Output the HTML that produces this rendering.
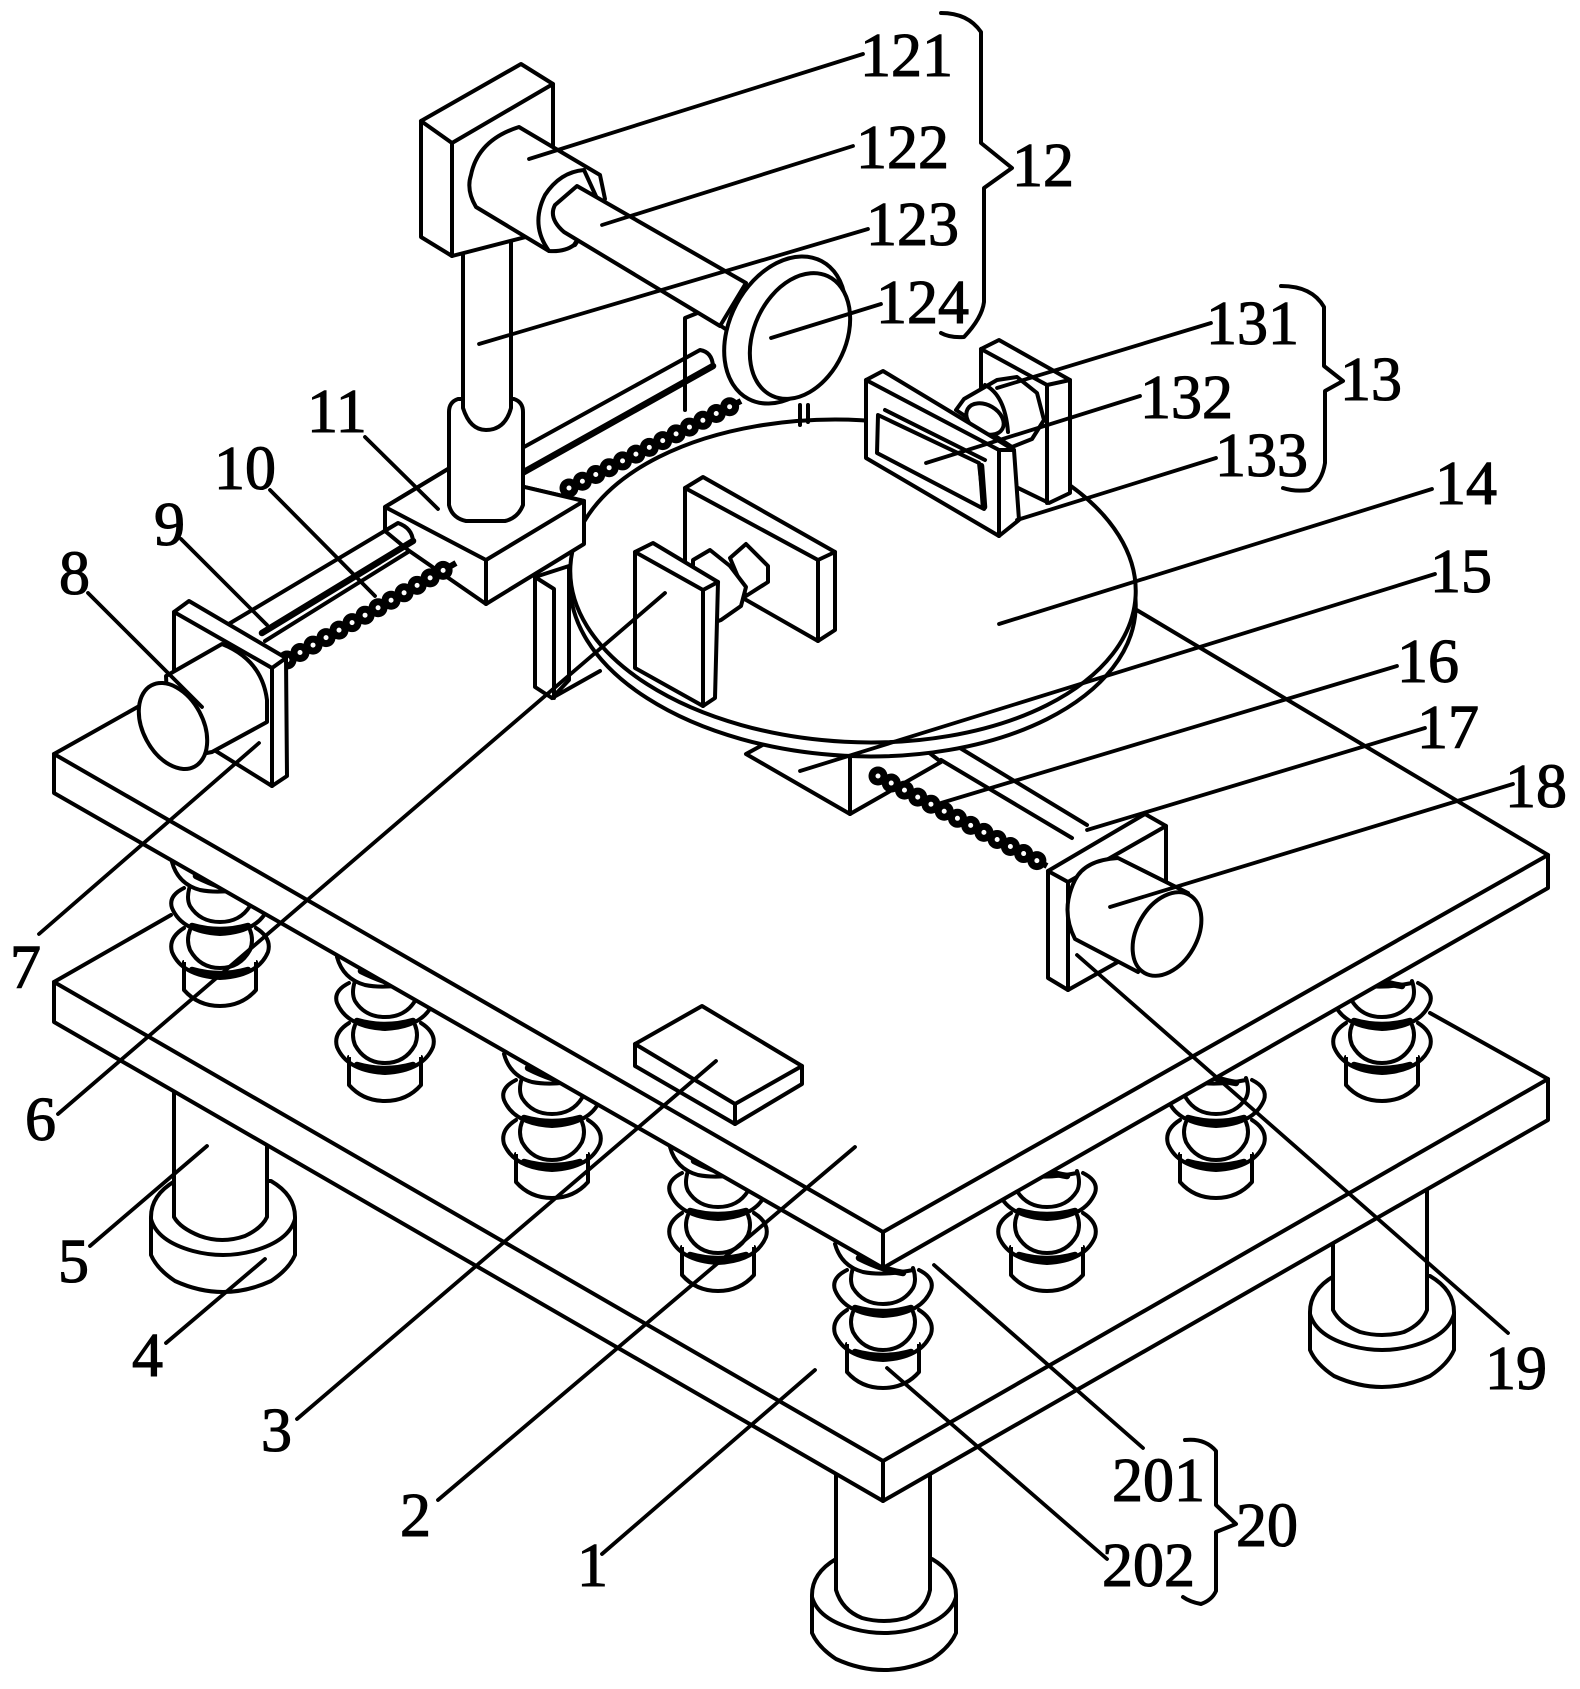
<!DOCTYPE html>
<html><head><meta charset="utf-8"><style>
html,body{margin:0;padding:0;background:#fff}
svg{display:block}
text{font-family:"Liberation Serif",serif;font-size:62px;fill:#000;stroke:#000;stroke-width:1.1}
.l{stroke:#000;stroke-width:3.8;fill:none}
.f{stroke:#000;stroke-width:4;fill:#fff;stroke-linejoin:round;stroke-linecap:round}
.n{stroke:#000;stroke-width:4;fill:none;stroke-linejoin:round;stroke-linecap:round}
.t{stroke:#000;stroke-width:6.5;fill:none;stroke-linecap:round;stroke-linejoin:round}
</style></head><body>
<svg width="1580" height="1689" viewBox="0 0 1580 1689" xmlns="http://www.w3.org/2000/svg">
<defs>
<g id="foot">
<path class="f" d="M-72,0 Q-72,-22 -48,-36 L48,-36 Q72,-22 72,0 V38 Q66,52 48,64 Q0,86 -48,64 Q-66,52 -72,38 Z"/>
<path class="n" d="M-72,2 Q-66,24 -30,34 Q0,42 30,34 Q66,24 72,2"/>
</g>
<g id="spring">
<path class="f" d="M-36,-44 V-16 Q-22,0 0,0 Q22,0 36,-16 V-44"/>
<path d="M-36,-150 L36,-150 L36,-44 L-36,-44 Z" fill="#fff"/>
<path class="n" d="M-36,-78 Q-52,-68 -48,-54 Q-38,-30 0,-28 Q38,-30 48,-54 Q52,-68 36,-78"/>
<path class="n" d="M-30,-76 Q-34,-66 -30,-56 Q-20,-38 0,-38 Q20,-38 30,-56 Q34,-66 30,-76"/>
<path class="t" d="M-28,-36 Q0,-28 28,-36"/>
<path class="n" d="M-36,-118 Q-52,-110 -48,-98 Q-38,-74 0,-72 Q38,-74 48,-98 Q52,-110 36,-118"/>
<path class="n" d="M-30,-120 Q-34,-108 -30,-100 Q-20,-84 0,-84 Q20,-84 30,-100 Q34,-108 30,-120"/>
<path class="t" d="M-28,-80 Q0,-72 28,-80"/>
<path class="n" d="M-48,-144 Q-42,-122 -20,-116 Q0,-112 30,-118"/>
<path class="t" d="M-24,-130 Q0,-118 20,-115"/>
</g>
</defs>

<!-- feet -->
<use href="#foot" x="223" y="1217"/>
<path class="f" d="M174,1085 V1217 Q180,1228 200,1236 Q222,1244 245,1236 Q262,1228 267,1217 V1120 Z"/>
<use href="#foot" x="1382" y="1312"/>
<path class="f" d="M1333,1180 V1310 Q1340,1324 1360,1332 Q1382,1338 1404,1332 Q1422,1324 1427,1310 V1130 Z"/>
<use href="#foot" x="884" y="1595"/>
<path class="f" d="M836,1470 V1590 Q842,1610 862,1618 Q884,1624 906,1618 Q926,1610 930,1590 V1470 Z"/>

<!-- lower plate -->
<polygon points="54,982 719,605 1548,1079 883,1461" fill="#fff"/>
<path class="n" d="M54,982 L171,915 M1430,1013 L1548,1079"/>
<polygon class="f" points="54,982 883,1461 1548,1079 1548,1120 883,1501 54,1022"/>
<path class="n" d="M883,1461 V1501"/>

<!-- springs -->
<use href="#spring" x="220" y="1006"/>
<use href="#spring" x="385" y="1101"/>
<use href="#spring" x="552" y="1198"/>
<use href="#spring" x="718" y="1291"/>
<use href="#spring" x="883" y="1388"/>
<use href="#spring" x="1047" y="1291"/>
<use href="#spring" x="1216" y="1198"/>
<use href="#spring" x="1382" y="1101"/>

<!-- upper plate -->
<polygon points="54,754 800,400 1548,855 883,1232" fill="#fff"/>
<polygon class="f" points="54,754 883,1232 1548,855 1548,888 883,1268 54,793"/>
<path class="n" d="M883,1232 V1268 M54,754 L150,700 M1135,609 L1548,855"/>

<!-- left bracket at disc -->
<polygon class="f" points="535,577 569,566 569,680 552,698 535,687"/>
<path class="n" d="M535,577 L554,589 V698 M552,698 L600,671"/>

<!-- middle rod, back plate -->
<path class="n" d="M685,410 V318 L700,312 L730,332"/>
<path class="n" d="M524,447 L700,350 Q712,352 713,366"/>
<path class="t" d="M524,472 L713,366"/>

<!-- under disc block and rail -->
<path class="f" d="M746,754 L850,814 L941,762 L900,730 L790,730 Z"/>
<path class="n" d="M850,750 V814"/>
<path class="n" d="M960,748 L1087,825 M941,760 L1072,838"/>

<!-- disc -->
<ellipse class="f" cx="853" cy="595" rx="283" ry="161" transform="rotate(3 853 595)"/>
<ellipse class="f" cx="853" cy="581" rx="283" ry="161" transform="rotate(3 853 581)"/>

<!-- right screw -->
<path d="M878,776 L1047,866" stroke="#000" stroke-width="6" fill="none"/>
<path d="M878,776 L1047,866" stroke="#000" stroke-width="19" fill="none" stroke-linecap="round" stroke-dasharray="0 15"/>
<path d="M878,776 L1047,866" stroke="#fff" stroke-width="5" fill="none" stroke-linecap="round" stroke-dasharray="0 15"/>

<!-- mid screw -->
<path d="M569,488 L741,401" stroke="#000" stroke-width="6" fill="none"/>
<path d="M569,488 L741,401" stroke="#000" stroke-width="19" fill="none" stroke-linecap="round" stroke-dasharray="0 15"/>
<path d="M569,488 L741,401" stroke="#fff" stroke-width="5" fill="none" stroke-linecap="round" stroke-dasharray="0 15"/>

<!-- block 11 -->
<polygon class="f" points="385,507 448,469 584,501 584,544 486,604 408,550 385,531"/>
<polygon class="f" points="385,507 448,469 584,501 486,560"/>
<path class="n" d="M486,560 V604"/>

<!-- left rod/screw -->
<path class="n" d="M227,625 L398,523 Q412,528 413,541"/>
<path class="t" d="M262,633 L413,541"/>
<path class="n" d="M265,641 L408,552"/>
<path d="M287,660 L456,563" stroke="#000" stroke-width="6" fill="none"/>
<path d="M287,660 L456,563" stroke="#000" stroke-width="19" fill="none" stroke-linecap="round" stroke-dasharray="0 15"/>
<path d="M287,660 L456,563" stroke="#fff" stroke-width="5" fill="none" stroke-linecap="round" stroke-dasharray="0 15"/>

<!-- left flange & motor -->
<polygon class="f" points="174,612 189,601 286,658 287,776 272,786 174,725"/>
<path class="n" d="M174,612 L272,668 L272,786 M272,668 L286,658"/>
<path class="f" d="M166,676 L222,644 Q262,660 267,700 V722 L212,752 L170,760 Z"/>
<ellipse class="f" cx="173" cy="726" rx="30" ry="46" transform="rotate(-28 173 726)"/>

<!-- post and top -->
<path class="f" d="M449,412 Q449,402 458,399 L514,399 Q523,402 523,412 V505 Q518,518 505,521 H466 Q452,518 449,505 Z"/>
<path class="f" d="M463,230 V408 Q470,430 486,430 Q505,430 511,408 V230 Z"/>
<polygon class="f" points="421,121 521,64 553,84 553,230 452,256 421,237"/>
<path class="n" d="M421,121 L452,143 L553,84 M452,143 V256"/>
<path class="f" d="M519,127 L600,175 L605,199 L575,245 L549,251 L476,207 Q466,190 471,175 Q478,140 519,127 Z"/>
<path class="f" d="M584,170 Q560,172 545,195 Q530,225 549,251 Q565,252 574,245 L600,205 Z"/>
<path class="f" d="M577,186 L746,283 L720,326 L564,232 Q548,218 555,205 Z"/>

<!-- gauge -->
<path class="n" d="M800,405 V425 M808,405 V422"/>
<ellipse class="f" cx="785" cy="330" rx="55" ry="78" transform="rotate(28 785 330)"/>
<ellipse class="f" cx="800" cy="336" rx="46" ry="66" transform="rotate(25 800 336)"/>

<!-- right group -->
<polygon class="f" points="981,349 999,340 1070,380 1070,493 1049,503 981,470"/>
<path class="n" d="M981,349 L1047,385 V503 M1047,385 L1070,380"/>
<path class="f" d="M956,410 L964,399 L997,380 L1017,377 L1037,393 L1044,420 L1032,439 L1012,447 Z"/>
<path class="n" d="M985,385 Q1005,395 1008,432"/>
<ellipse class="f" cx="985" cy="419" rx="20" ry="14" transform="rotate(30 985 419)"/>
<polygon class="f" points="866,380 883,371 1014,450 1019,520 999,536 866,458"/>
<path class="n" d="M866,380 L999,450 V536 M999,450 L1014,450"/>
<polygon class="n" points="878,415 979,463 984,509 877,453"/>
<path class="t" d="M981,466 L984,507"/>
<path class="n" d="M885,410 L985,460"/>

<!-- centre bracket on disc -->
<polygon class="f" points="685,488 703,477 835,552 835,630 818,641 685,565"/>
<path class="n" d="M685,488 L818,560 V641 M818,560 L835,552"/>
<path class="f" d="M730,558 L746,544 L768,566 V582 L746,596 Z"/>
<path class="f" d="M693,560 L710,550 L730,566 L746,587 L741,606 L721,620 L693,630 Z"/>
<polygon class="f" points="635,552 653,543 718,582 715,698 703,706 635,668"/>
<path class="n" d="M635,552 L703,590 V706 M703,590 L718,582"/>

<!-- right flange & motor -->
<polygon class="f" points="1048,871 1145,814 1166,826 1166,935 1068,990 1048,978"/>
<path class="n" d="M1048,871 L1068,882 V990 M1068,882 L1166,826"/>
<path class="f" d="M1118,858 Q1085,860 1075,880 Q1060,910 1075,939 L1138,972 L1188,893 Z"/>
<ellipse class="f" cx="1167" cy="934" rx="30" ry="45" transform="rotate(30 1167 934)"/>

<!-- control box -->
<polygon class="f" points="635,1044 702,1006 802,1066 802,1084 735,1124 635,1066"/>
<path class="n" d="M635,1044 L735,1104 L802,1066 M735,1104 V1124"/>

<!-- leaders -->
<g class="l" stroke-linecap="round">
<path d="M88,593 L202,707"/><path d="M181,539 L267,625"/><path d="M270,490 L375,596"/><path d="M365,437 L438,509"/>
<path d="M529,159 L863,54"/><path d="M602,225 L853,146"/><path d="M479,344 L868,229"/><path d="M771,338 L881,304"/>
<path d="M997,388 L1211,323"/><path d="M926,463 L1140,396"/><path d="M1017,520 L1216,458"/>
<path d="M999,624 L1432,489"/><path d="M800,771 L1435,574"/><path d="M941,803 L1397,666"/><path d="M1087,830 L1425,728"/>
<path d="M1110,907 L1513,784"/><path d="M1077,955 L1508,1333"/><path d="M934,1265 L1143,1448"/><path d="M887,1368 L1107,1559"/>
<path d="M602,1554 L815,1370"/><path d="M438,1500 L855,1147"/><path d="M297,1419 L716,1061"/>
<path d="M166,1343 L265,1259"/><path d="M90,1246 L207,1146"/><path d="M58,1114 L665,593"/><path d="M39,934 L259,743"/>
</g>

<!-- braces -->
<path class="n" d="M941,13 Q968,13 981,32 V143 L1012,168 L984,188 V302 Q982,318 964,337 Q950,338 941,333"/>
<path class="n" d="M1281,286 Q1312,286 1324,307 V366 L1343,381 L1325,391 V463 Q1322,482 1309,490 Q1295,492 1283,488"/>
<path class="n" d="M1185,1440 Q1205,1438 1216,1451 V1505 L1236,1524 L1216,1532 V1591 Q1212,1600 1201,1604 Q1190,1602 1183,1597"/>

<!-- labels -->
<text x="860" y="76">121</text><text x="856" y="168">122</text><text x="866" y="245">123</text><text x="876" y="323">124</text>
<text x="1012" y="186">12</text><text x="1206" y="344">131</text><text x="1140" y="418">132</text><text x="1215" y="476">133</text>
<text x="1340" y="400">13</text><text x="1435" y="504">14</text><text x="1430" y="592">15</text><text x="1397" y="682">16</text>
<text x="1417" y="748">17</text><text x="1505" y="807">18</text><text x="1485" y="1389">19</text>
<text x="1112" y="1501">201</text><text x="1102" y="1586">202</text><text x="1236" y="1546">20</text>
<text x="577" y="1586">1</text><text x="400" y="1536">2</text><text x="261" y="1451">3</text><text x="132" y="1376">4</text>
<text x="58" y="1282">5</text><text x="25" y="1140">6</text><text x="10" y="988">7</text><text x="59" y="594">8</text>
<text x="154" y="545">9</text><text x="214" y="489">10</text><text x="307" y="432">11</text>
</svg>
</body></html>
